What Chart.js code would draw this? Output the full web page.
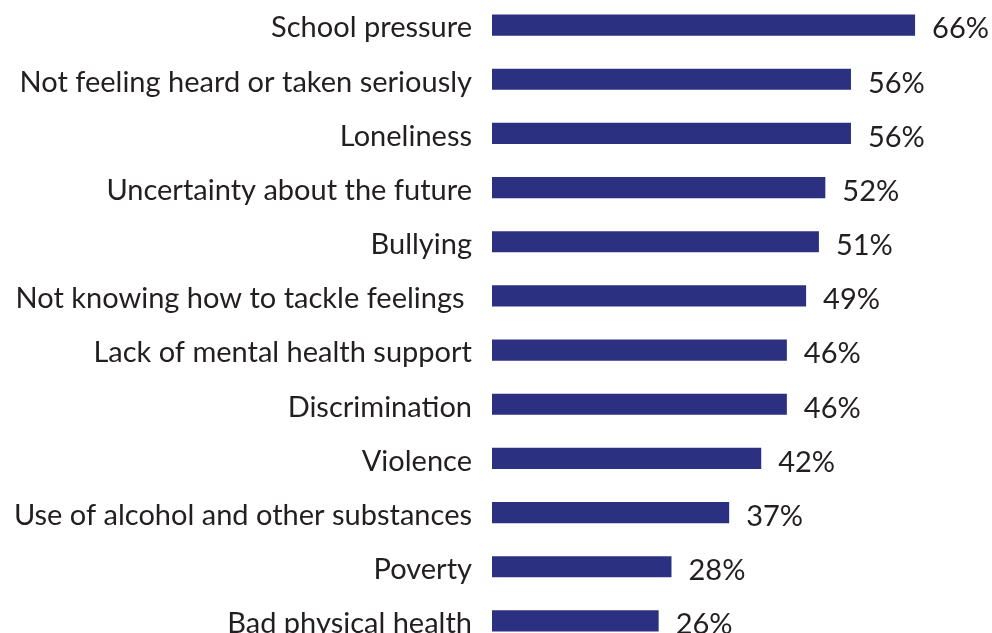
<!DOCTYPE html>
<html>
<head>
<meta charset="utf-8">
<script src="https://cdn.jsdelivr.net/npm/chart.js@4"></script>
<style>
  html, body { margin: 0; padding: 0; background: #fff; overflow: hidden; }
  #wrap { position: absolute; left: 0; top: -2px; width: 992px; height: 650px; }
</style>
</head>
<body>
<div id="wrap"><canvas id="chart"></canvas></div>
<script>
// Kategorien und Werte (in %)
const categories = [
  'School pressure',
  'Not feeling heard or taken seriously',
  'Loneliness',
  'Uncertainty about the future',
  'Bullying',
  'Not knowing how to tackle feelings ',
  'Lack of mental health support',
  'Discrimination',
  'Violence',
  'Use of alcohol and other substances',
  'Poverty',
  'Bad physical health'
]
const values = [66, 56, 56, 52, 51, 49, 46, 46, 42, 37, 28, 26]

const barColor = '#2b3180'
const textColor = '#231f20'
const fontFamily = 'Lato, "Open Sans", sans-serif'
const fontSize = 29

// Werte rechts neben den Balken
const valueLabels = {
  id: 'valueLabels',
  afterDatasetsDraw(chart) {
    const ctx = chart.ctx
    const meta = chart.getDatasetMeta(0)
    ctx.save()
    ctx.font = `${fontSize}px ${fontFamily}`
    ctx.fillStyle = textColor
    ctx.textAlign = 'left'
    ctx.textBaseline = 'middle'
    meta.data.forEach((bar, i) => {
      ctx.fillText(values[i] + '%', bar.x + 17, bar.y + 4)
    })
    ctx.restore()
  }
}

new Chart(document.getElementById('chart'), {
  type: 'bar',
  data: {
    labels: categories,
    datasets: [{
      data: values,
      backgroundColor: barColor,
      borderWidth: 0,
      categoryPercentage: 1,
      barPercentage: 0.39
    }]
  },
  options: {
    indexAxis: 'y',
    responsive: true,
    maintainAspectRatio: false,
    animation: false,
    layout: { padding: 0 },
    plugins: {
      legend: { display: false },
      tooltip: { enabled: false }
    },
    scales: {
      x: {
        min: 0,
        max: 78,
        display: false,
        grid: { display: false }
      },
      y: {
        grid: { display: false, drawTicks: false },
        border: { display: false },
        afterFit(scale) {
          scale.width = 492
          // keine Extra-Abstände oben/unten
          scale.paddingTop = 0
          scale.paddingBottom = 0
        },
        ticks: {
          color: textColor,
          padding: 20,
          labelOffset: 3,
          font: { family: fontFamily, size: fontSize }
        }
      }
    }
  },
  plugins: [valueLabels]
})
</script>
</body>
</html>
